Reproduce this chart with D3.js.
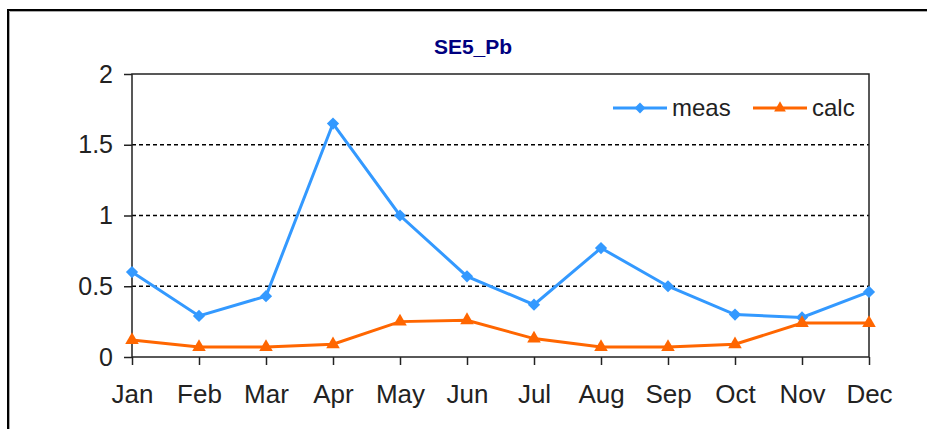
<!DOCTYPE html>
<html>
<head>
<meta charset="utf-8">
<script src="https://d3js.org/d3.v7.min.js"></script>
<style>
  body { margin: 0; background: #fff; }
  text { font-family: 'Liberation Sans', Arial, sans-serif; }
</style>
</head>
<body>
<div id="chart"></div>
<script>
  // data
  var months = ["Jan", "Feb", "Mar", "Apr", "May", "Jun", "Jul", "Aug", "Sep", "Oct", "Nov", "Dec"];
  var meas = [0.60, 0.29, 0.43, 1.65, 1.00, 0.57, 0.37, 0.77, 0.50, 0.30, 0.28, 0.46];
  var calc = [0.12, 0.07, 0.07, 0.09, 0.25, 0.26, 0.13, 0.07, 0.07, 0.09, 0.24, 0.24];
  var yTicks = [0, 0.5, 1, 1.5, 2];

  var W = 927, H = 429;
  var margin = { top: 74, right: 58, bottom: 72, left: 132 },
    width = W - margin.left - margin.right,
    height = H - margin.top - margin.bottom;

  var svg = d3.select("#chart")
    .append("svg")
    .attr("width", W)
    .attr("height", H);

  // chart frame
  svg.append("rect")
    .attr("x", 8).attr("y", 10)
    .attr("width", W).attr("height", H)
    .attr("fill", "none")
    .attr("stroke", "#000")
    .attr("stroke-width", 2);
  svg.append("path")
    .attr("d", "M9.5," + H + "V11.5H" + W)
    .attr("fill", "none")
    .attr("stroke", "#aaa")
    .attr("stroke-width", 1);

  // title
  svg.append("text")
    .attr("x", 473)
    .attr("y", 54)
    .attr("text-anchor", "middle")
    .style("font-size", "21px")
    .style("font-weight", "bold")
    .style("fill", "#000080")
    .text("SE5_Pb");

  var g = svg.append("g")
    .attr("transform", "translate(" + margin.left + "," + margin.top + ")");

  var x = d3.scalePoint()
    .domain(months)
    .range([0, width]);

  var y = d3.scaleLinear()
    .domain([0, 2])
    .range([height, 0]);

  // dashed gridlines
  g.selectAll("grid")
    .data(yTicks.filter(function (d) { return d > 0 && d < 2; }))
    .enter()
    .append("line")
    .attr("x1", 0).attr("x2", width)
    .attr("y1", function (d) { return y(d); })
    .attr("y2", function (d) { return y(d); })
    .attr("stroke", "#000")
    .attr("stroke-width", 1.6)
    .attr("stroke-dasharray", "4,3");

  // plot area box
  g.append("rect")
    .attr("width", width).attr("height", height)
    .attr("fill", "none")
    .attr("stroke", "#222")
    .attr("stroke-width", 1.5);

  // Y axis
  var yAxis = g.append("g")
    .call(d3.axisLeft(y).tickValues(yTicks).tickSize(8).tickPadding(11).tickFormat(d3.format("")));
  yAxis.select(".domain").remove();
  yAxis.selectAll("line").attr("stroke", "#222").attr("stroke-width", 1.5);
  yAxis.selectAll("text")
    .style("font-size", "25px")
    .attr("fill", "#222");

  // X axis
  var xAxis = g.append("g")
    .attr("transform", "translate(0," + height + ")")
    .call(d3.axisBottom(x).tickSize(8).tickPadding(20));
  xAxis.select(".domain").remove();
  xAxis.selectAll("line").attr("stroke", "#222").attr("stroke-width", 1.5);
  xAxis.selectAll("text")
    .style("font-size", "26px")
    .attr("fill", "#222");

  var line = d3.line()
    .x(function (d, i) { return x(months[i]); })
    .y(function (d) { return y(d); });

  var series = [
    { key: "meas", values: meas, color: "#3399ff", symbol: d3.symbolDiamond2 },
    { key: "calc", values: calc, color: "#ff6600", symbol: d3.symbolTriangle }
  ];

  series.forEach(function (s) {
    g.append("path")
      .datum(s.values)
      .attr("d", line)
      .attr("fill", "none")
      .attr("stroke", s.color)
      .attr("stroke-width", 3);

    g.selectAll("pt-" + s.key)
      .data(s.values)
      .enter()
      .append("path")
      .attr("transform", function (d, i) { return "translate(" + x(months[i]) + "," + y(d) + ")"; })
      .attr("d", d3.symbol().type(s.symbol).size(s.key == "meas" ? 95 : 80))
      .attr("fill", s.color);
  });

  // legend
  var legend = svg.append("g");
  var legendX = [613, 753];
  series.forEach(function (s, i) {
    var lg = legend.append("g")
      .attr("transform", "translate(" + legendX[i] + ",108)");
    lg.append("line")
      .attr("x1", 0).attr("x2", 54)
      .attr("stroke", s.color)
      .attr("stroke-width", 3);
    lg.append("path")
      .attr("transform", "translate(27,0)")
      .attr("d", d3.symbol().type(s.symbol).size(s.key == "meas" ? 75 : 60))
      .attr("fill", s.color);
    lg.append("text")
      .attr("x", 59)
      .attr("y", 8)
      .style("font-size", "24px")
      .attr("fill", "#222")
      .text(s.key);
  });
</script>
</body>
</html>
